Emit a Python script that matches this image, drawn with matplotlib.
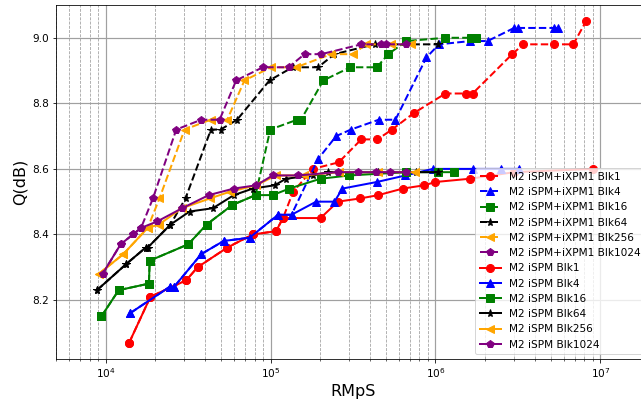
import matplotlib
matplotlib.use('Agg')
import matplotlib.pyplot as plt
from matplotlib.ticker import LogLocator

# ---- iSPM only (solid lines) ----
spm_blk1_x    = [1.39e4, 1.87e4, 3.08e4, 3.61e4, 5.47e4, 7.81e4, 1.08e5, 1.19e5, 2.01e5, 2.56e5, 3.51e5, 4.51e5, 6.34e5, 8.57e5, 1.00e6, 1.62e6, 3.0e6, 9.07e6]
spm_blk1_y    = [8.07, 8.21, 8.26, 8.30, 8.36, 8.40, 8.41, 8.45, 8.45, 8.50, 8.51, 8.52, 8.54, 8.55, 8.56, 8.57, 8.59, 8.60]
spm_blk4_x    = [1.41e4, 2.44e4, 2.60e4, 3.80e4, 5.19e4, 7.46e4, 1.11e5, 1.34e5, 1.89e5, 2.44e5, 2.73e5, 4.41e5, 6.58e5, 9.64e5, 1.68e6, 2.5e6, 3.2e6]
spm_blk4_y    = [8.16, 8.24, 8.24, 8.34, 8.38, 8.39, 8.46, 8.46, 8.50, 8.50, 8.54, 8.56, 8.58, 8.60, 8.60, 8.60, 8.60]
spm_blk16_x   = [9.42e3, 1.20e4, 1.83e4, 1.85e4, 3.17e4, 4.09e4, 5.87e4, 8.11e4, 1.03e5, 1.30e5, 2.01e5, 3.01e5, 6.64e5, 1.03e6, 1.30e6]
spm_blk16_y   = [8.15, 8.23, 8.25, 8.32, 8.37, 8.43, 8.49, 8.52, 8.52, 8.54, 8.57, 8.58, 8.59, 8.59, 8.59]
spm_blk64_x   = [8.86e3, 1.335e4, 1.75e4, 1.80e4, 2.47e4, 3.23e4, 4.47e4, 5.99e4, 7.81e4, 1.06e5, 1.24e5, 1.81e5, 2.22e5, 4.5e5, 7.64e5, 1.04e6]
spm_blk64_y   = [8.23, 8.31, 8.36, 8.36, 8.43, 8.47, 8.48, 8.52, 8.54, 8.55, 8.57, 8.58, 8.59, 8.59, 8.59, 8.59]
spm_blk256_x  = [9.1e3, 1.28e4, 1.80e4, 2.1e4, 2.9e4, 4.3e4, 5.64e4, 8.19e4, 1.08e5, 1.6e5, 2.6e5, 4.5e5, 7.5e5]
spm_blk256_y  = [8.28, 8.34, 8.42, 8.43, 8.48, 8.51, 8.53, 8.55, 8.58, 8.58, 8.59, 8.59, 8.59]
spm_blk1024_x = [9.59e3, 1.233e4, 1.464e4, 1.64e4, 2.06e4, 2.91e4, 4.22e4, 5.99e4, 8.19e4, 1.03e5, 1.46e5, 2.55e5, 3.37e5, 4.37e5, 5.31e5, 6.64e5]
spm_blk1024_y = [8.28, 8.37, 8.40, 8.42, 8.44, 8.48, 8.52, 8.54, 8.55, 8.58, 8.58, 8.59, 8.59, 8.59, 8.59, 8.59]

# ---- iSPM+iXPM1 (dashed lines), they share the first points with iSPM ----
xpm_blk1_x    = spm_blk1_x[:8] + [1.37e5, 1.81e5, 2.59e5, 3.55e5, 4.45e5, 5.45e5, 7.38e5, 1.15e6, 1.54e6, 1.68e6, 2.92e6, 3.41e6, 5.26e6, 6.85e6, 8.18e6]
xpm_blk1_y    = spm_blk1_y[:8] + [8.53, 8.60, 8.62, 8.69, 8.69, 8.72, 8.77, 8.83, 8.83, 8.83, 8.95, 8.98, 8.98, 8.98, 9.05]
xpm_blk4_x    = spm_blk4_x[:8] + [1.94e5, 2.50e5, 3.07e5, 4.53e5, 5.72e5, 8.82e5, 1.05e6, 1.63e6, 2.07e6, 3.0e6, 3.16e6, 5.26e6, 5.51e6]
xpm_blk4_y    = spm_blk4_y[:8] + [8.63, 8.70, 8.72, 8.75, 8.75, 8.94, 8.98, 8.99, 8.99, 9.03, 9.03, 9.03, 9.03]
xpm_blk16_x   = spm_blk16_x[:8] + [9.96e4, 1.45e5, 1.53e5, 2.09e5, 3.05e5, 4.41e5, 5.17e5, 6.67e5, 1.15e6, 1.64e6, 1.76e6]
xpm_blk16_y   = spm_blk16_y[:8] + [8.72, 8.75, 8.75, 8.87, 8.91, 8.91, 8.95, 8.99, 9.00, 9.00, 9.00]
xpm_blk64_x   = spm_blk64_x[:5] + [3.05e4, 4.35e4, 4.98e4, 6.27e4, 9.86e4, 1.36e5, 1.94e5, 2.44e5, 4.27e5, 1.03e6]
xpm_blk64_y   = spm_blk64_y[:5] + [8.51, 8.72, 8.72, 8.75, 8.87, 8.91, 8.91, 8.95, 8.98, 8.98]
xpm_blk256_x  = spm_blk256_x[:3] + [2.12e4, 3.01e4, 4.33e4, 5.46e4, 6.95e4, 1.01e5, 1.43e5, 2.33e5, 3.15e5, 3.8e5, 5.38e5, 7.13e5]
xpm_blk256_y  = spm_blk256_y[:3] + [8.51, 8.72, 8.75, 8.75, 8.87, 8.91, 8.91, 8.95, 8.95, 8.98, 8.98, 8.98]
xpm_blk1024_x = spm_blk1024_x[:4] + [1.935e4, 2.68e4, 3.80e4, 4.91e4, 6.19e4, 8.98e4, 1.285e5, 1.607e5, 2.03e5, 3.55e5, 4.69e5, 5.03e5, 6.64e5]
xpm_blk1024_y = spm_blk1024_y[:4] + [8.51, 8.72, 8.75, 8.75, 8.87, 8.91, 8.91, 8.95, 8.95, 8.98, 8.98, 8.98, 8.98]

blocks  = ['Blk1', 'Blk4', 'Blk16', 'Blk64', 'Blk256', 'Blk1024']
colors  = ['red', 'blue', 'green', 'black', 'orange', 'purple']
markers = ['o', '^', 's', '*', '<', 'p']

xpm_series = [(xpm_blk1_x, xpm_blk1_y), (xpm_blk4_x, xpm_blk4_y), (xpm_blk16_x, xpm_blk16_y),
              (xpm_blk64_x, xpm_blk64_y), (xpm_blk256_x, xpm_blk256_y), (xpm_blk1024_x, xpm_blk1024_y)]
spm_series = [(spm_blk1_x, spm_blk1_y), (spm_blk4_x, spm_blk4_y), (spm_blk16_x, spm_blk16_y),
              (spm_blk64_x, spm_blk64_y), (spm_blk256_x, spm_blk256_y), (spm_blk1024_x, spm_blk1024_y)]

DPI = 72
fig = plt.figure(figsize=(641/DPI, 400/DPI), dpi=DPI)
# axes is wider than the picture: right part is cut off in the reference
ax = fig.add_axes([56/641, 41/400, 594/641, 354/400])

for k, (x, y) in enumerate(xpm_series):
  ax.plot(x, y, linestyle='--', marker=markers[k], color=colors[k], lw=2, markersize=8,
          label='M2 iSPM+iXPM1 {}'.format(blocks[k]))
for k, (x, y) in enumerate(spm_series):
  ax.plot(x, y, linestyle='-', marker=markers[k], color=colors[k], lw=2, markersize=8,
          label='M2 iSPM {}'.format(blocks[k]))

ax.set_xscale('log')
ax.set_xlim(5e3, 2e7)
ax.set_ylim(8.02, 9.10)
ax.set_yticks([8.2, 8.4, 8.6, 8.8, 9.0])
ax.xaxis.set_minor_locator(LogLocator(base=10, subs=range(2, 10), numticks=20))

ax.grid(True, which='major', color='#a0a0a0', linewidth=1.2)
ax.grid(True, which='minor', axis='x', color='#a0a0a0', linestyle='--', linewidth=0.8)
ax.set_axisbelow(True)

ax.set_xlabel('RMpS', fontsize=16)
ax.set_ylabel('Q(dB)', fontsize=16)
ax.tick_params(labelsize=10.5)
ax.legend(loc='lower right', fontsize=10.5)

fig.savefig('out.png', dpi=DPI)
